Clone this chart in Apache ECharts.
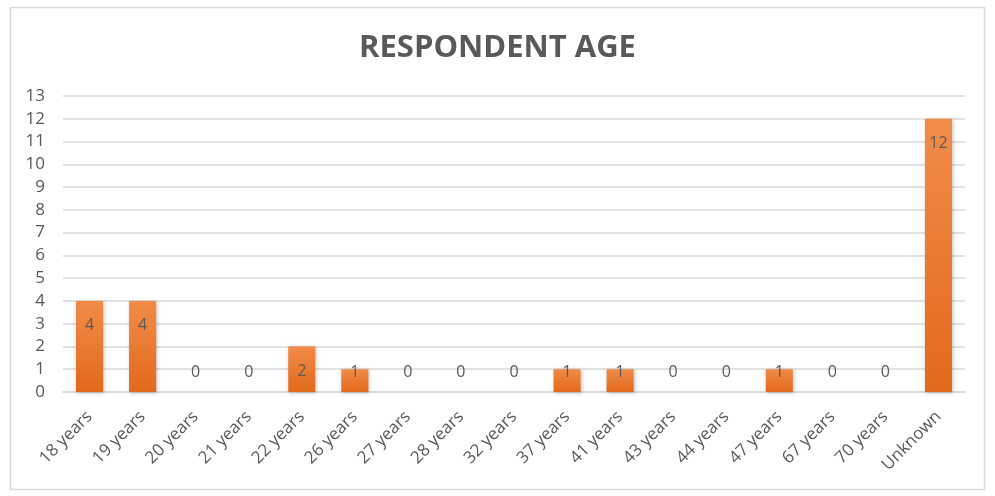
<!DOCTYPE html>
<html><head><meta charset="utf-8">
<script src="https://cdn.jsdelivr.net/npm/echarts@6/dist/echarts.min.js"></script>
<style>html,body{margin:0;padding:0;background:#fff}#c{width:995px;height:496px}</style>
</head><body><div id="c"></div>
<script>
const categories = ['18 years','19 years','20 years','21 years','22 years','26 years','27 years','28 years','32 years','37 years','41 years','43 years','44 years','47 years','67 years','70 years','Unknown'];
const counts = [4,4,0,0,2,1,0,0,0,1,1,0,0,1,0,0,12];
const yTicks = {min:0, max:13, interval:1};
const titleText = 'RESPONDENT AGE';

const txt = '#595959';
const font = 'Open Sans';
const data = counts.map(v => {
  let label;
  if (v >= 2) label = {position:'insideTop', distance:17};
  else if (v === 1) label = {position:'insideTop', distance:-5};
  else label = {position:'top', distance:12};
  return {value:v, label};
});
const chart = echarts.init(document.getElementById('c'));
chart.setOption({
  animation:false,
  graphic:[{type:'rect', shape:{x:10.5,y:7.5,width:974,height:482}, style:{fill:'none', stroke:'#d9d9d9', lineWidth:1.5}}],
  title:{text:titleText, left:'center', top:28, textStyle:{fontFamily:font, fontWeight:'bold', fontSize:31, color:txt}},
  grid:{left:63, right:30, top:96, bottom:104},
  xAxis:{type:'category', data:categories,
    axisLine:{lineStyle:{color:'#d9d9d9', width:1.5}}, axisTick:{show:false},
    axisLabel:{rotate:45, margin:22, fontFamily:font, fontSize:17, color:txt, interval:0}},
  yAxis:{type:'value', min:yTicks.min, max:yTicks.max, interval:yTicks.interval,
    axisLine:{show:false}, axisTick:{show:false},
    splitLine:{lineStyle:{color:'#d9d9d9', width:1.5}},
    axisLabel:{fontFamily:font, fontSize:17, color:txt, margin:18}},
  series:[{type:'bar', data, barWidth:'51%',
    itemStyle:{color:new echarts.graphic.LinearGradient(0,0,0,1,[{offset:0,color:'#F18C48'},{offset:1,color:'#E2691C'}]),
      shadowColor:'rgba(0,0,0,0.25)', shadowBlur:4, shadowOffsetX:1, shadowOffsetY:1},
    label:{show:true, fontFamily:font, fontSize:16, color:txt}}]
});
</script></body></html>
